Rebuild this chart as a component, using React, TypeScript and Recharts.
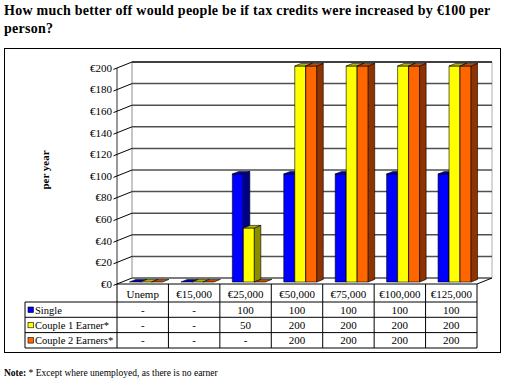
import { BarChart, Bar, XAxis, YAxis, CartesianGrid } from "recharts";

const categories = ["Unemp", "€15,000", "€25,000", "€50,000", "€75,000", "€100,000", "€125,000"];
const single = [0, 0, 100, 100, 100, 100, 100];
const couple1 = [0, 0, 50, 200, 200, 200, 200];
const couple2 = [0, 0, 0, 200, 200, 200, 200];
const yTicks = [0, 20, 40, 60, 80, 100, 120, 140, 160, 180, 200];
const seriesNames = ["Single", "Couple 1 Earner*", "Couple 2 Earners*"];

const series = [
  { key: "single", name: seriesNames[0], front: "#0000ff", top: "#0000b0", side: "#000088" },
  { key: "couple1", name: seriesNames[1], front: "#ffff00", top: "#b3b300", side: "#8c8c00" },
  { key: "couple2", name: seriesNames[2], front: "#ff6600", top: "#c04c00", side: "#8f3300" },
];

const data = categories.map((c, i) => ({
  name: c,
  single: single[i],
  couple1: couple1[i],
  couple2: couple2[i],
}));

// layout of the chart (inside the bordered box)
const CHART_W = 497;
const CHART_H = 305;
const MARGIN = { top: 20, right: 24, left: 53, bottom: 5 };
const Y_AXIS_W = 60;
const X_AXIS_H = 64;
const PLOT_L = MARGIN.left + Y_AXIS_W;
const PLOT_R = CHART_W - MARGIN.right;
const PLOT_T = MARGIN.top;
const PLOT_B = CHART_H - MARGIN.bottom - X_AXIS_H;
const COL_W = (PLOT_R - PLOT_L) / categories.length;

// 3d offsets
const WALL_DX = 15;
const WALL_DY = -6;
const BAR_DX = 4;
const BAR_DY = -2;
const DEPTH_X = 6.5;
const DEPTH_Y = -2.6;

const FONT = "'Liberation Serif', 'Times New Roman', serif";

const Bar3D = (props: any) => {
  const { x, y, width, height, front, top, side } = props;
  if (x == null || y == null) return null;
  const h = Math.max(0, height || 0);
  const fx = x + BAR_DX;
  const fy = y + BAR_DY;
  const w = width;
  return (
    <g stroke="#000" strokeWidth={0.6} strokeLinejoin="round">
      {h > 0 && <rect x={fx} y={fy} width={w} height={h} fill={front} />}
      {h > 0 && (
        <polygon
          points={`${fx + w},${fy} ${fx + w + DEPTH_X},${fy + DEPTH_Y} ${fx + w + DEPTH_X},${fy + h + DEPTH_Y} ${fx + w},${fy + h}`}
          fill={side}
        />
      )}
      <polygon
        points={`${fx},${fy} ${fx + DEPTH_X},${fy + DEPTH_Y} ${fx + w + DEPTH_X},${fy + DEPTH_Y} ${fx + w},${fy}`}
        fill={top}
      />
    </g>
  );
};

const GridLine = (props: any) => {
  const { x1, x2, y1, index } = props;
  const isTop = Math.abs(y1 - PLOT_T) < 0.5;
  return (
    <g key={`g-${index}`}>
      <line
        x1={x1 + WALL_DX}
        y1={y1 + WALL_DY}
        x2={x2 + WALL_DX}
        y2={y1 + WALL_DY}
        stroke={isTop ? "#000" : "#505050"}
        strokeWidth={isTop ? 1.3 : 1.5}
      />
      {index === 0 && (
        <>
          <line x1={PLOT_L + WALL_DX} y1={PLOT_T + WALL_DY} x2={PLOT_L + WALL_DX} y2={PLOT_B + WALL_DY} stroke="#a0a0a0" strokeWidth={1.2} />
          <line x1={PLOT_R + WALL_DX} y1={PLOT_T + WALL_DY} x2={PLOT_R + WALL_DX} y2={PLOT_B + WALL_DY} stroke="#b0b0b0" strokeWidth={1} />
        </>
      )}
    </g>
  );
};

const YTick = (props: any) => {
  const { x, y, payload } = props;
  return (
    <g>
      <line x1={x - 3.5} y1={y + 1.4} x2={x + WALL_DX} y2={y + WALL_DY} stroke="#000" strokeWidth={1} />
      <text x={x - 5} y={y} dy="0.35em" textAnchor="end" fontFamily={FONT} fontSize={11} fill="#000">
        €{payload.value}
      </text>
    </g>
  );
};

const fmt = (v: number) => (v ? String(v) : "-");

const XTick = (props: any) => {
  const { x, y, index } = props;
  const top = y;
  const l = x - COL_W / 2;
  const r = x + COL_W / 2;
  const rows = [top + 18, top + 33.3, top + 48.6, top + 64];
  const values = [single[index], couple1[index], couple2[index]];
  const last = index === categories.length - 1;
  const keyL = l - 92;
  return (
    <g fontFamily={FONT} fontSize={11} fill="#000">
      <line x1={l} y1={top} x2={l} y2={rows[3]} stroke="#000" strokeWidth={1} />
      {last && <line x1={r} y1={top} x2={r} y2={rows[3]} stroke="#000" strokeWidth={1} />}
      {last && <line x1={r} y1={top} x2={r + WALL_DX} y2={top + WALL_DY} stroke="#000" strokeWidth={1} />}
      {rows.map((ry, i) => (
        <line key={i} x1={l} y1={ry} x2={r} y2={ry} stroke="#000" strokeWidth={1} />
      ))}
      <text x={x} y={top + 14} textAnchor="middle">
        {categories[index]}
      </text>
      {values.map((v, i) => (
        <text key={i} x={x} y={rows[i] + 11.5} textAnchor="middle">
          {fmt(v)}
        </text>
      ))}
      {index === 0 && (
        <g fontSize={10.5}>
          <line x1={keyL} y1={rows[0]} x2={keyL} y2={rows[3]} stroke="#000" strokeWidth={1} />
          {rows.map((ry, i) => (
            <line key={i} x1={keyL} y1={ry} x2={l} y2={ry} stroke="#000" strokeWidth={1} />
          ))}
          {series.map((s, i) => (
            <g key={s.key}>
              <rect x={keyL + 3} y={rows[i] + 5} width={5.5} height={5.5} fill={s.front} stroke="#000" strokeWidth={0.6} />
              <text x={keyL + 10} y={rows[i] + 11.5} textAnchor="start">
                {s.name}
              </text>
            </g>
          ))}
        </g>
      )}
    </g>
  );
};

export default function App() {
  return (
    <div style={{ position: "absolute", left: 0, top: 0, width: 510, height: 386, background: "#fff", fontFamily: FONT }}>
      <div
        style={{
          position: "absolute",
          left: 4,
          top: 2,
          fontWeight: "bold",
          fontSize: 14,
          letterSpacing: 0.25,
          lineHeight: "18px",
          whiteSpace: "nowrap",
          color: "#000",
        }}
      >
        How much better off would people be if tax credits were increased by €100 per
        <br />
        person?
      </div>
      <div
        style={{
          position: "absolute",
          left: 4,
          top: 48,
          width: 497,
          height: 305,
          boxSizing: "border-box",
          border: "1.5px solid #000",
        }}
      />
      <div style={{ position: "absolute", left: 4, top: 48 }}>
        <BarChart width={CHART_W} height={CHART_H} data={data} margin={MARGIN} barCategoryGap="16.5%" barGap={0}>
          <CartesianGrid vertical={false} horizontal={(p: any) => <GridLine {...p} />} />
          <XAxis
            dataKey="name"
            height={X_AXIS_H}
            tickSize={0}
            tickMargin={0}
            axisLine={{ stroke: "#000", strokeWidth: 1 }}
            tickLine={false}
            interval={0}
            tick={(p: any) => <XTick {...p} />}
          />
          <YAxis
            width={Y_AXIS_W}
            domain={[0, 200]}
            ticks={yTicks}
            interval={0}
            tickSize={0}
            tickMargin={0}
            tickLine={false}
            axisLine={{ stroke: "#333", strokeWidth: 1 }}
            tick={(p: any) => <YTick {...p} />}
          />
          {series.map((s) => (
            <Bar
              key={s.key}
              dataKey={s.key}
              name={s.name}
              fill={s.front}
              isAnimationActive={false}
              shape={(p: any) => <Bar3D {...p} front={s.front} top={s.top} side={s.side} />}
            />
          ))}
        </BarChart>
      </div>
      <div
        style={{
          position: "absolute",
          left: 45,
          top: 170,
          transform: "translate(-50%, -50%) rotate(-90deg)",
          fontWeight: "bold",
          fontSize: 11,
          whiteSpace: "nowrap",
        }}
      >
        per year
      </div>
      <div style={{ position: "absolute", left: 4, top: 368, fontSize: 9.5, whiteSpace: "nowrap" }}>
        <b>Note:</b> * Except where unemployed, as there is no earner
      </div>
    </div>
  );
}
